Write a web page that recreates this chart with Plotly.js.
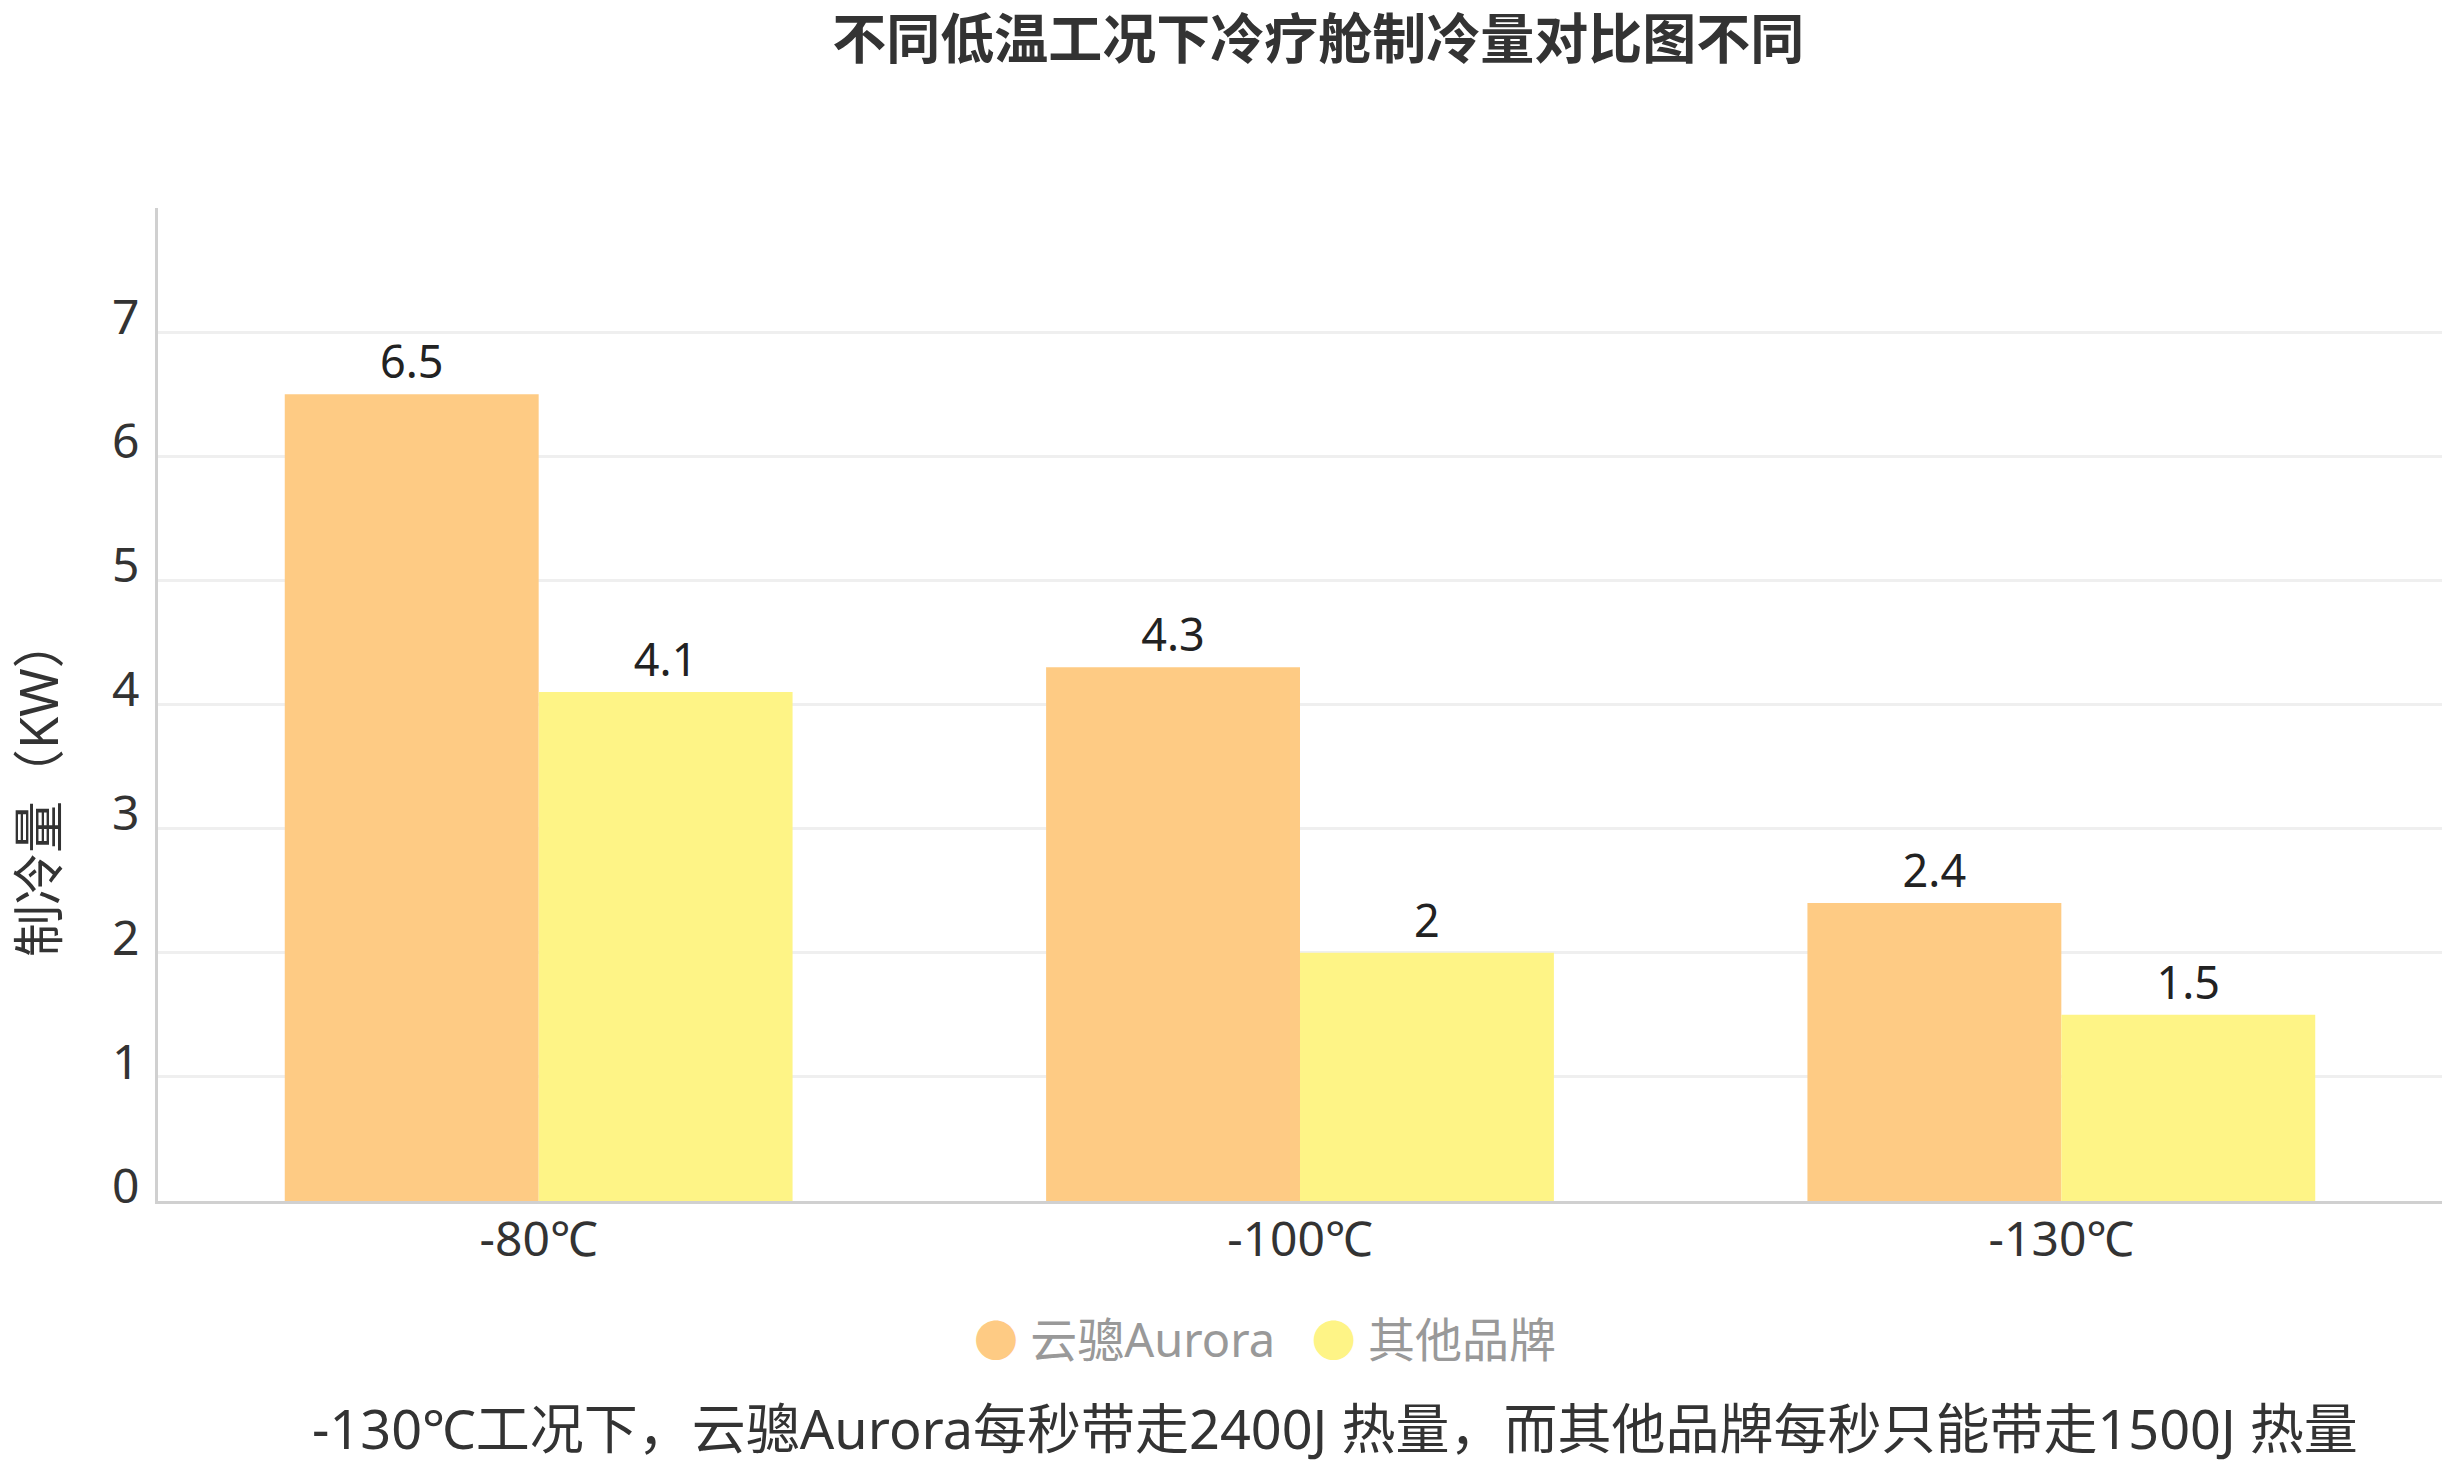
<!DOCTYPE html>
<html>
<head>
<meta charset="utf-8">
<script src="https://cdn.plot.ly/plotly-3.0.1.min.js"></script>
<style>
  html, body { margin: 0; padding: 0; background: #fff; }
  #chart { width: 2442px; height: 1465px; }
</style>
</head>
<body>
<div id="chart"></div>
<script>
document.addEventListener('DOMContentLoaded', function () {
    var categories = ['-80℃', '-100℃', '-130℃'];
    var auroraValues = [6.5, 4.3, 2.4];
    var otherValues = [4.1, 2, 1.5];
    var yTicks = [0, 1, 2, 3, 4, 5, 6, 7];
    var seriesNames = ['云骢Aurora', '其他品牌'];
    var seriesColors = ['#FECB84', '#FEF486'];

    var fontFamily = '"Noto Sans", "Noto Sans CJK SC", sans-serif';

    var trace1 = {
        x: categories,
        y: auroraValues,
        text: auroraValues.map(String),
        name: seriesNames[0],
        type: 'bar',
        textposition: 'outside',
        cliponaxis: false,
        textfont: { size: 45, color: '#222' },
        marker: { color: seriesColors[0] },
        showlegend: false
    };

    var trace2 = {
        x: categories,
        y: otherValues,
        text: otherValues.map(String),
        name: seriesNames[1],
        type: 'bar',
        textposition: 'outside',
        cliponaxis: false,
        textfont: { size: 45, color: '#222' },
        marker: { color: seriesColors[1] },
        showlegend: false
    };

    var data = [trace1, trace2];

    // legend drawn as text so the dots can be large circles
    var legendText =
        '<span style="color:' + seriesColors[0] + ';font-size:44px">●</span> ' + seriesNames[0] +
        '   ' +
        '<span style="color:' + seriesColors[1] + ';font-size:44px">●</span> ' + seriesNames[1];

    var layout = {
        width: 2442,
        height: 1465,
        font: { family: fontFamily, size: 46, color: '#333' },
        paper_bgcolor: '#fff',
        plot_bgcolor: '#fff',
        margin: { l: 158, r: 0, t: 208, b: 264 },
        barmode: 'group',
        bargap: 0.333,
        bargroupgap: 0,
        title: {
            text: '不同低温工况下冷疗舱制冷量对比图不同',
            font: { size: 54, color: '#333', weight: 'bold' },
            x: 0.5398,
            xanchor: 'center',
            y: 0.9727,
            yanchor: 'middle',
            yref: 'container'
        },
        xaxis: {
            type: 'category',
            showline: true,
            linecolor: '#d0d0d0',
            linewidth: 3,
            showgrid: false,
            zeroline: false,
            ticks: '',
            ticklabelstandoff: -6,
            tickfont: { size: 48, color: '#333' }
        },
        yaxis: {
            range: [0, 8],
            tickvals: yTicks,
            showline: true,
            linecolor: '#d0d0d0',
            linewidth: 3,
            gridcolor: '#efefef',
            gridwidth: 3,
            zeroline: false,
            ticks: '',
            ticklabelstandoff: 6,
            ticklabelshift: -15,
            tickfont: { size: 48, color: '#333' }
        },
        annotations: [
            {
                text: '制冷量（KW）',
                xref: 'paper', yref: 'paper',
                x: -0.0525, y: 0.417,
                xanchor: 'center', yanchor: 'middle',
                textangle: -90,
                showarrow: false,
                font: { size: 52, color: '#333' }
            },
            {
                text: legendText,
                xref: 'paper', yref: 'paper',
                x: 0.4847, y: -0.139,
                xanchor: 'center', yanchor: 'middle',
                showarrow: false,
                font: { size: 47, color: '#999' }
            },
            {
                text: '-130℃工况下，云骢Aurora每秒带走2400J 热量，而其他品牌每秒只能带走1500J 热量',
                xref: 'paper', yref: 'paper',
                x: 0.5153, y: -0.229,
                xanchor: 'center', yanchor: 'middle',
                showarrow: false,
                font: { size: 54, color: '#333' }
            }
        ]
    };

    var config = { staticPlot: true, displayModeBar: false };

    Plotly.newPlot('chart', data, layout, config);
});
</script>
</body>
</html>
